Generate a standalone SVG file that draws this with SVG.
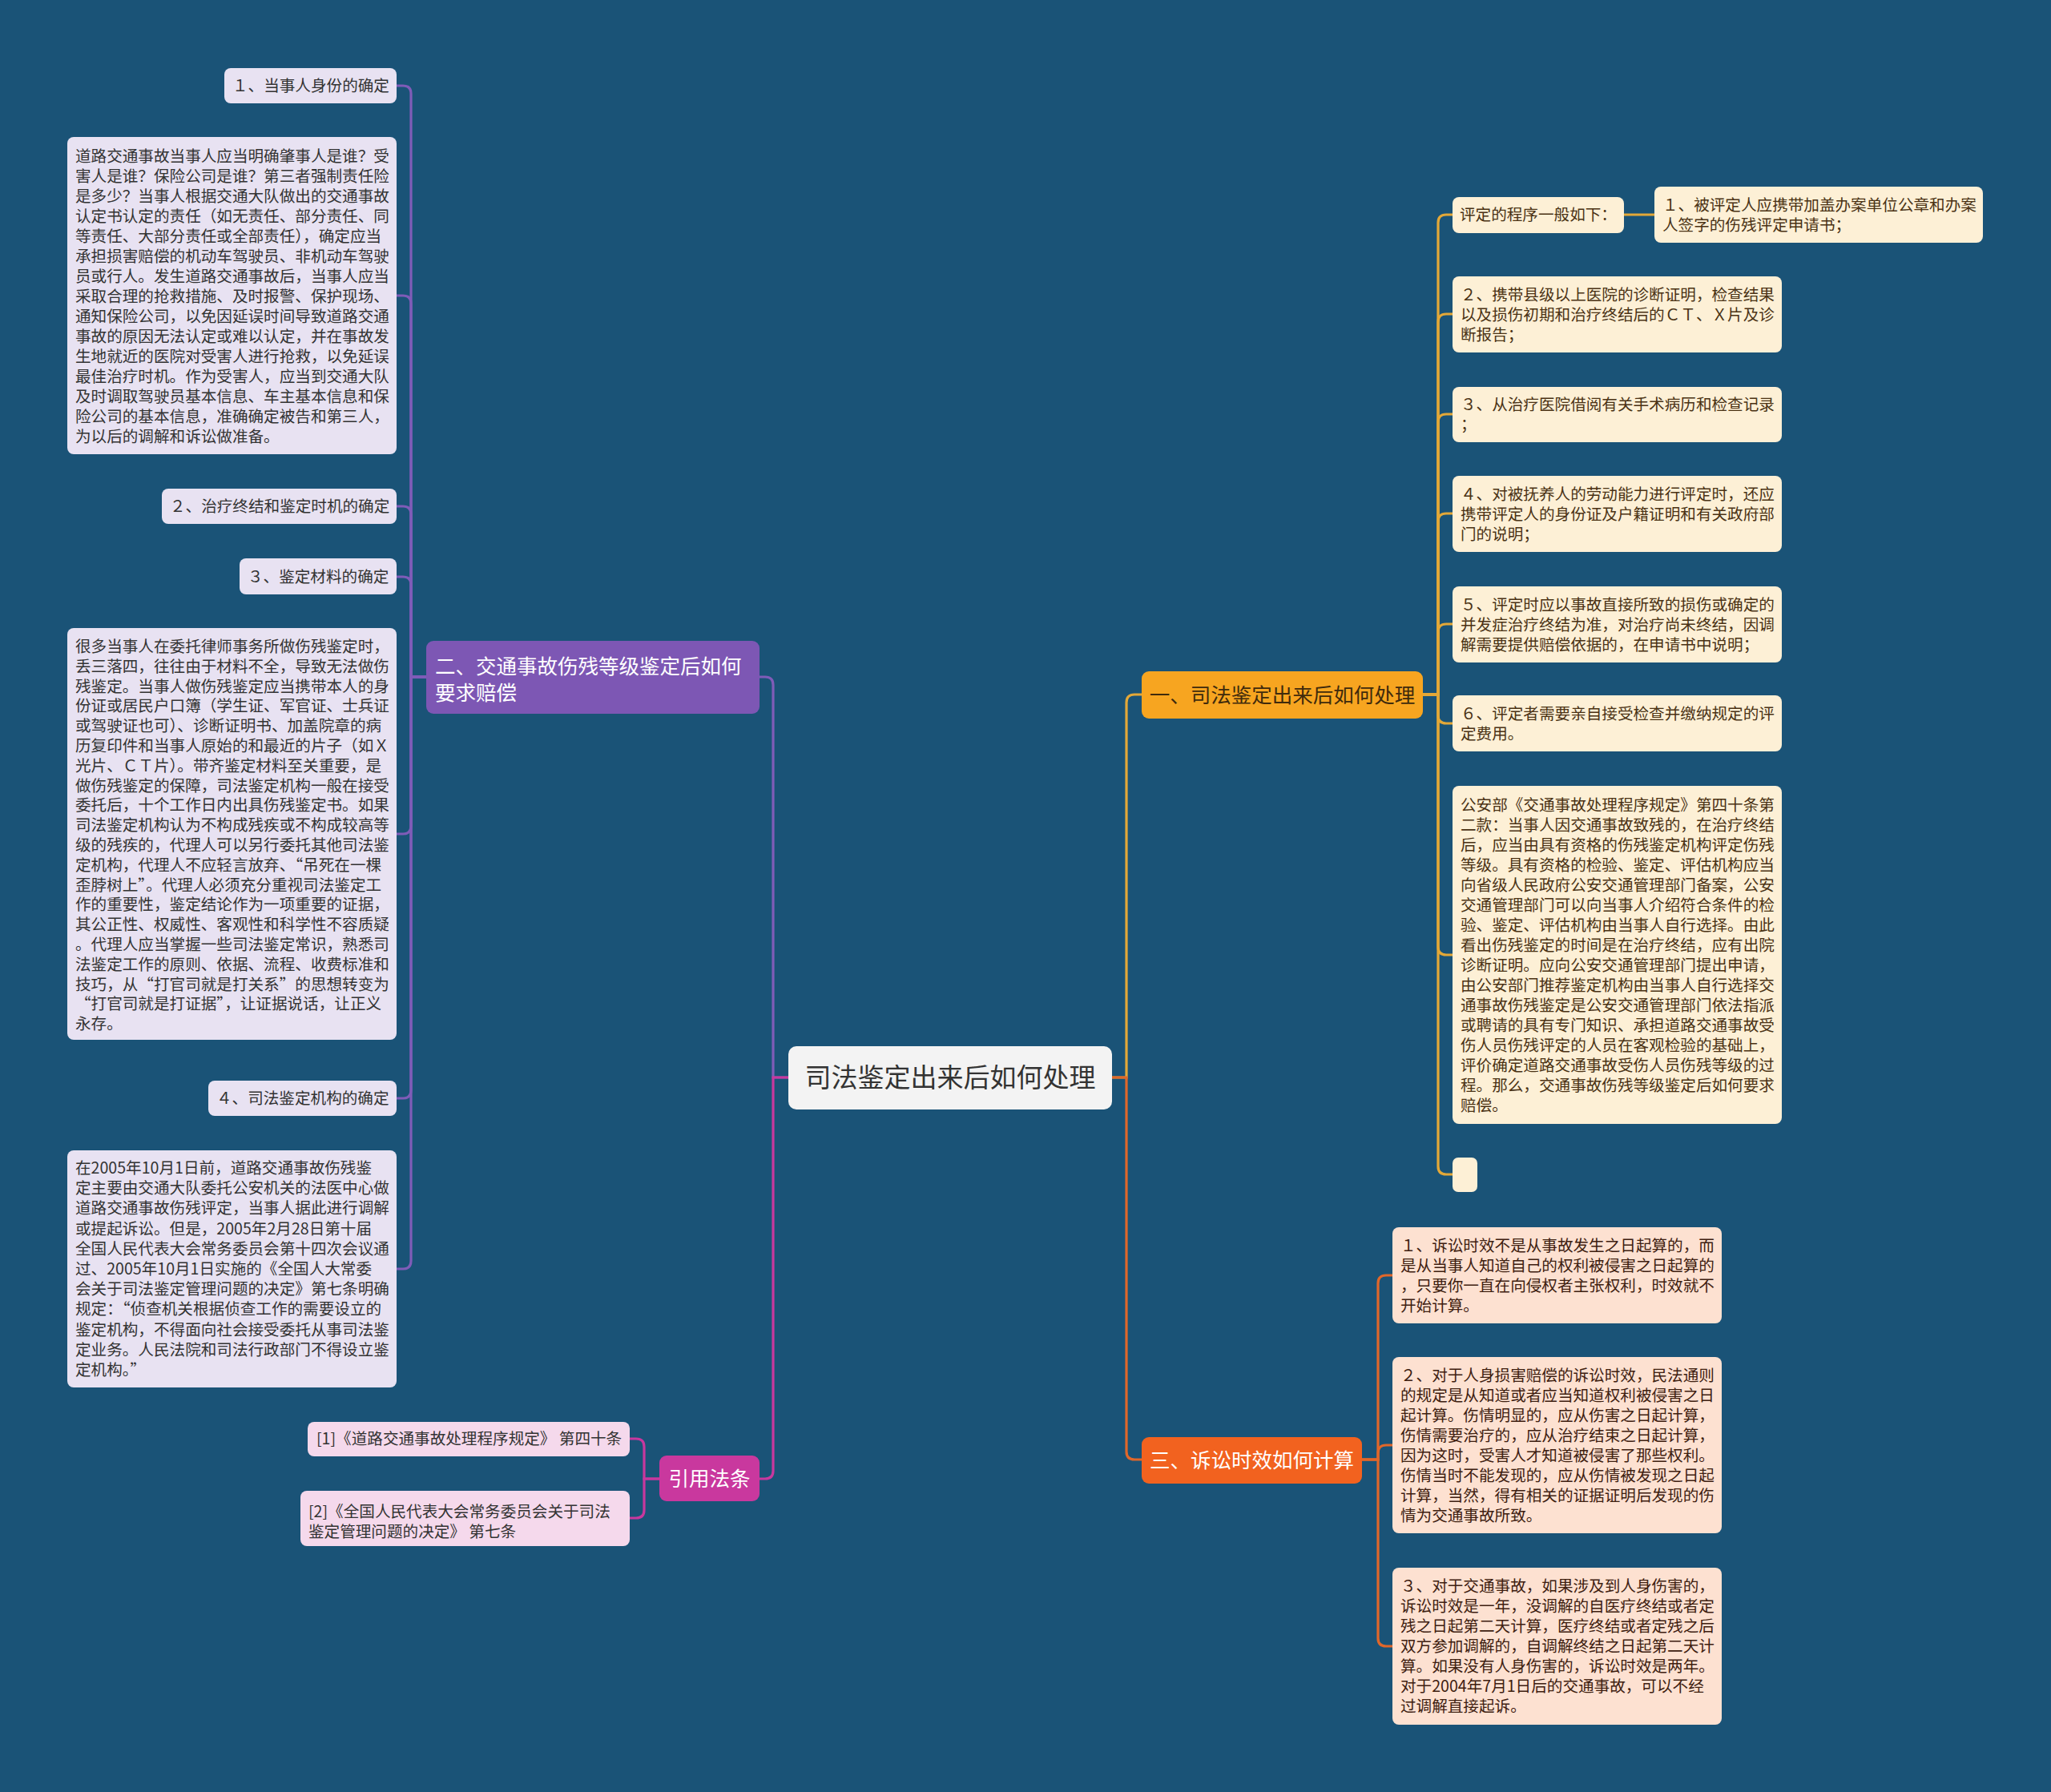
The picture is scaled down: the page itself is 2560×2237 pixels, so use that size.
<svg xmlns="http://www.w3.org/2000/svg" width="2560" height="2237" viewBox="0 0 2560 2237" lang="zh-CN">
<style>
text{font-family:"Noto Sans CJK SC","Noto Sans",sans-serif;}
.s{font-size:19.6px;}
.b{font-size:25.5px;}
.fw{font-feature-settings:"fwid";}
.dk{fill:#333333;}
.br{fill:#4a3214;}
.rd{fill:#3e2010;}
.wh{fill:#ffffff;}
.lav{fill:#e8e2f2;}
.pnk{fill:#f5d9ec;}
.crm{fill:#fdf0d6;}
.pch{fill:#fde1d1;}
.ln{fill:none;stroke-width:3.2;stroke-linecap:round;}
.lp{stroke:#7f5cb8;}
.lm{stroke:#c8389e;}
.lo{stroke:#e3a838;}
.lr{stroke:#e0672a;}
</style>
<rect x="0" y="0" width="2560" height="2237" fill="#1a5377"/>

<g id="connectors">
  <path class="ln lp" d="M984 1345 H965 V855 Q965 845 955 845 H948"/>
  <path class="ln lm" d="M984 1345 H965 V1836 Q965 1846 955 1846 H948"/>
  <path class="ln lo" d="M1388 1345 H1406 V877 Q1406 867 1416 867 H1425"/>
  <path class="ln lr" d="M1388 1345 H1406 V1812 Q1406 1822 1416 1822 H1425"/>
  <path class="ln lp" d="M532 845 H513 V117 Q513 107 503 107 H495"/>
  <path class="ln lp" d="M532 845 H513 V379 Q513 369 503 369 H495"/>
  <path class="ln lp" d="M532 845 H513 V642 Q513 632 503 632 H495"/>
  <path class="ln lp" d="M532 845 H513 V730 Q513 720 503 720 H495"/>
  <path class="ln lp" d="M532 845 H513 V1031 Q513 1041 503 1041 H495"/>
  <path class="ln lp" d="M532 845 H513 V1361 Q513 1371 503 1371 H495"/>
  <path class="ln lp" d="M532 845 H513 V1574 Q513 1584 503 1584 H495"/>
  <path class="ln lm" d="M823 1846 H804 V1806 Q804 1796 794 1796 H786"/>
  <path class="ln lm" d="M823 1846 H804 V1885 Q804 1895 794 1895 H786"/>
  <path class="ln lo" d="M1776 867 H1795 V278 Q1795 268 1805 268 H1813"/>
  <path class="ln lo" d="M2027 268 H2065"/>
  <path class="ln lo" d="M1776 867 H1795 V402 Q1795 392 1805 392 H1813"/>
  <path class="ln lo" d="M1776 867 H1795 V527 Q1795 517 1805 517 H1813"/>
  <path class="ln lo" d="M1776 867 H1795 V651 Q1795 641 1805 641 H1813"/>
  <path class="ln lo" d="M1776 867 H1795 V789 Q1795 779 1805 779 H1813"/>
  <path class="ln lo" d="M1776 867 H1795 V893 Q1795 903 1805 903 H1813"/>
  <path class="ln lo" d="M1776 867 H1795 V1182 Q1795 1192 1805 1192 H1813"/>
  <path class="ln lo" d="M1776 867 H1795 V1456 Q1795 1466 1805 1466 H1813"/>
  <path class="ln lr" d="M1700 1822 H1720 V1602 Q1720 1592 1730 1592 H1738"/>
  <path class="ln lr" d="M1700 1822 H1720 V1814 Q1720 1804 1730 1804 H1738"/>
  <path class="ln lr" d="M1700 1822 H1720 V2045 Q1720 2055 1730 2055 H1738"/>
</g>

<g id="center">
  <rect x="984" y="1306" width="404" height="79" rx="10" fill="#f3f3f3"/>
  <text x="1186" y="1357" font-size="33px" text-anchor="middle" class="dk">司法鉴定出来后如何处理</text>
</g>

<g id="branch-2">
  <rect x="532" y="800" width="416" height="91" rx="9" fill="#7d57b4"/>
  <text class="b wh" x="543" y="841">二、交通事故伤残等级鉴定后如何</text>
  <text class="b wh" x="543" y="874">要求赔偿</text>
</g>

<g id="n2-1">
  <rect class="lav" x="280" y="85" width="215" height="44" rx="8"/>
  <text class="s dk" x="290" y="114">１、当事人身份的确定</text>
</g>
<g id="n2-1a">
  <rect class="lav" x="84" y="171" width="411" height="396" rx="8"/>
  <text class="s dk" x="94" y="202">道路交通事故当事人应当明确肇事人是谁？受<tspan x="94" dy="25">害人是谁？保险公司是谁？第三者强制责任险</tspan><tspan x="94" dy="25">是多少？当事人根据交通大队做出的交通事故</tspan><tspan x="94" dy="25">认定书认定的责任（如无责任、部分责任、同</tspan><tspan x="94" dy="25">等责任、大部分责任或全部责任），确定应当</tspan><tspan x="94" dy="25">承担损害赔偿的机动车驾驶员、非机动车驾驶</tspan><tspan x="94" dy="25">员或行人。发生道路交通事故后，当事人应当</tspan><tspan x="94" dy="25">采取合理的抢救措施、及时报警、保护现场、</tspan><tspan x="94" dy="25">通知保险公司，以免因延误时间导致道路交通</tspan><tspan x="94" dy="25">事故的原因无法认定或难以认定，并在事故发</tspan><tspan x="94" dy="25">生地就近的医院对受害人进行抢救，以免延误</tspan><tspan x="94" dy="25">最佳治疗时机。作为受害人，应当到交通大队</tspan><tspan x="94" dy="25">及时调取驾驶员基本信息、车主基本信息和保</tspan><tspan x="94" dy="25">险公司的基本信息，准确确定被告和第三人，</tspan><tspan x="94" dy="25">为以后的调解和诉讼做准备。</tspan></text>
</g>
<g id="n2-2">
  <rect class="lav" x="202" y="610" width="293" height="44" rx="8"/>
  <text class="s dk" x="212" y="639">２、治疗终结和鉴定时机的确定</text>
</g>
<g id="n2-3">
  <rect class="lav" x="299" y="697" width="196" height="45" rx="8"/>
  <text class="s dk" x="309" y="727">３、鉴定材料的确定</text>
</g>
<g id="n2-3a">
  <rect class="lav" x="84" y="784" width="411" height="514" rx="8"/>
  <text class="s dk" x="94" y="814">很多当事人在委托律师事务所做伤残鉴定时，<tspan x="94" dy="24.8">丢三落四，往往由于材料不全，导致无法做伤</tspan><tspan x="94" dy="24.8">残鉴定。当事人做伤残鉴定应当携带本人的身</tspan><tspan x="94" dy="24.8">份证或居民户口簿（学生证、军官证、士兵证</tspan><tspan x="94" dy="24.8">或驾驶证也可）、诊断证明书、加盖院章的病</tspan><tspan x="94" dy="24.8">历复印件和当事人原始的和最近的片子（如Ｘ</tspan><tspan x="94" dy="24.8">光片、ＣＴ片）。带齐鉴定材料至关重要，是</tspan><tspan x="94" dy="24.8">做伤残鉴定的保障，司法鉴定机构一般在接受</tspan><tspan x="94" dy="24.8">委托后，十个工作日内出具伤残鉴定书。如果</tspan><tspan x="94" dy="24.8">司法鉴定机构认为不构成残疾或不构成较高等</tspan><tspan x="94" dy="24.8">级的残疾的，代理人可以另行委托其他司法鉴</tspan><tspan class="fw" x="94" dy="24.8">定机构，代理人不应轻言放弃、“吊死在一棵</tspan><tspan class="fw" x="94" dy="24.8">歪脖树上”。代理人必须充分重视司法鉴定工</tspan><tspan x="94" dy="24.8">作的重要性，鉴定结论作为一项重要的证据，</tspan><tspan x="94" dy="24.8">其公正性、权威性、客观性和科学性不容质疑</tspan><tspan x="94" dy="24.8">。代理人应当掌握一些司法鉴定常识，熟悉司</tspan><tspan x="94" dy="24.8">法鉴定工作的原则、依据、流程、收费标准和</tspan><tspan class="fw" x="94" dy="24.8">技巧，从“打官司就是打关系”的思想转变为</tspan><tspan class="fw" x="94" dy="24.8">“打官司就是打证据”，让证据说话，让正义</tspan><tspan x="94" dy="24.8">永存。</tspan></text>
</g>
<g id="n2-4">
  <rect class="lav" x="260" y="1349" width="235" height="44" rx="8"/>
  <text class="s dk" x="270" y="1378">４、司法鉴定机构的确定</text>
</g>
<g id="n2-4a">
  <rect class="lav" x="84" y="1436" width="411" height="296" rx="8"/>
  <text class="s dk" x="94" y="1465">在2005年10月1日前，道路交通事故伤残鉴<tspan x="94" dy="25.2">定主要由交通大队委托公安机关的法医中心做</tspan><tspan x="94" dy="25.2">道路交通事故伤残评定，当事人据此进行调解</tspan><tspan x="94" dy="25.2">或提起诉讼。但是，2005年2月28日第十届</tspan><tspan x="94" dy="25.2">全国人民代表大会常务委员会第十四次会议通</tspan><tspan x="94" dy="25.2">过、2005年10月1日实施的《全国人大常委</tspan><tspan x="94" dy="25.2">会关于司法鉴定管理问题的决定》第七条明确</tspan><tspan class="fw" x="94" dy="25.2">规定：“侦查机关根据侦查工作的需要设立的</tspan><tspan x="94" dy="25.2">鉴定机构，不得面向社会接受委托从事司法鉴</tspan><tspan x="94" dy="25.2">定业务。人民法院和司法行政部门不得设立鉴</tspan><tspan class="fw" x="94" dy="25.2">定机构。”</tspan></text>
</g>

<g id="branch-cite">
  <rect x="823" y="1817" width="125" height="57" rx="9" fill="#c9389e"/>
  <text class="b wh" x="885.5" y="1855" text-anchor="middle">引用法条</text>
</g>
<g id="cite-1">
  <rect class="pnk" x="384" y="1775" width="402" height="43" rx="8"/>
  <text class="s dk" x="395" y="1803">[1]《道路交通事故处理程序规定》 第四十条</text>
</g>
<g id="cite-2">
  <rect class="pnk" x="375" y="1861" width="411" height="69" rx="8"/>
  <text class="s dk" x="385" y="1894">[2]《全国人民代表大会常务委员会关于司法<tspan x="385" dy="25">鉴定管理问题的决定》 第七条</tspan></text>
</g>

<g id="branch-1">
  <rect x="1425" y="838" width="351" height="59" rx="9" fill="#f7a520"/>
  <text class="b" x="1600.5" y="877" text-anchor="middle" style="fill:#3f2a0c">一、司法鉴定出来后如何处理</text>
</g>
<g id="n1-0">
  <rect class="crm" x="1813" y="246" width="214" height="45" rx="8"/>
  <text class="s br" x="1822" y="275">评定的程序一般如下：</text>
</g>
<g id="n1-1">
  <rect class="crm" x="2065" y="233" width="410" height="70" rx="8"/>
  <text class="s br" x="2075" y="262.5">１、被评定人应携带加盖办案单位公章和办案<tspan x="2075" dy="25">人签字的伤残评定申请书；</tspan></text>
</g>
<g id="n1-2">
  <rect class="crm" x="1813" y="345" width="411" height="95" rx="8"/>
  <text class="s br" x="1823" y="375">２、携带县级以上医院的诊断证明，检查结果<tspan x="1823" dy="25">以及损伤初期和治疗终结后的ＣＴ、Ｘ片及诊</tspan><tspan x="1823" dy="25">断报告；</tspan></text>
</g>
<g id="n1-3">
  <rect class="crm" x="1813" y="483" width="411" height="69" rx="8"/>
  <text class="s br" x="1823" y="512">３、从治疗医院借阅有关手术病历和检查记录<tspan x="1823" dy="25">；</tspan></text>
</g>
<g id="n1-4">
  <rect class="crm" x="1813" y="594" width="411" height="95" rx="8"/>
  <text class="s br" x="1823" y="623.5">４、对被抚养人的劳动能力进行评定时，还应<tspan x="1823" dy="25">携带评定人的身份证及户籍证明和有关政府部</tspan><tspan x="1823" dy="25">门的说明；</tspan></text>
</g>
<g id="n1-5">
  <rect class="crm" x="1813" y="732" width="411" height="95" rx="8"/>
  <text class="s br" x="1823" y="761.5">５、评定时应以事故直接所致的损伤或确定的<tspan x="1823" dy="25">并发症治疗终结为准，对治疗尚未终结，因调</tspan><tspan x="1823" dy="25">解需要提供赔偿依据的，在申请书中说明；</tspan></text>
</g>
<g id="n1-6">
  <rect class="crm" x="1813" y="868" width="411" height="70" rx="8"/>
  <text class="s br" x="1823" y="897.5">６、评定者需要亲自接受检查并缴纳规定的评<tspan x="1823" dy="25">定费用。</tspan></text>
</g>
<g id="n1-7">
  <rect class="crm" x="1813" y="981" width="411" height="422" rx="8"/>
  <text class="s br" x="1823" y="1011.5">公安部《交通事故处理程序规定》第四十条第<tspan x="1823" dy="25">二款：当事人因交通事故致残的，在治疗终结</tspan><tspan x="1823" dy="25">后，应当由具有资格的伤残鉴定机构评定伤残</tspan><tspan x="1823" dy="25">等级。具有资格的检验、鉴定、评估机构应当</tspan><tspan x="1823" dy="25">向省级人民政府公安交通管理部门备案，公安</tspan><tspan x="1823" dy="25">交通管理部门可以向当事人介绍符合条件的检</tspan><tspan x="1823" dy="25">验、鉴定、评估机构由当事人自行选择。由此</tspan><tspan x="1823" dy="25">看出伤残鉴定的时间是在治疗终结，应有出院</tspan><tspan x="1823" dy="25">诊断证明。应向公安交通管理部门提出申请，</tspan><tspan x="1823" dy="25">由公安部门推荐鉴定机构由当事人自行选择交</tspan><tspan x="1823" dy="25">通事故伤残鉴定是公安交通管理部门依法指派</tspan><tspan x="1823" dy="25">或聘请的具有专门知识、承担道路交通事故受</tspan><tspan x="1823" dy="25">伤人员伤残评定的人员在客观检验的基础上，</tspan><tspan x="1823" dy="25">评价确定道路交通事故受伤人员伤残等级的过</tspan><tspan x="1823" dy="25">程。那么，交通事故伤残等级鉴定后如何要求</tspan><tspan x="1823" dy="25">赔偿。</tspan></text>
</g>
<g id="n1-8">
  <rect class="crm" x="1813" y="1445" width="31" height="43" rx="7"/>
</g>

<g id="branch-3">
  <rect x="1425" y="1794" width="275" height="58" rx="9" fill="#f2621f"/>
  <text class="b wh" x="1562.5" y="1832" text-anchor="middle">三、诉讼时效如何计算</text>
</g>
<g id="n3-1">
  <rect class="pch" x="1738" y="1532" width="411" height="120" rx="8"/>
  <text class="s rd" x="1748" y="1561.5">１、诉讼时效不是从事故发生之日起算的，而<tspan x="1748" dy="25">是从当事人知道自己的权利被侵害之日起算的</tspan><tspan x="1748" dy="25">，只要你一直在向侵权者主张权利，时效就不</tspan><tspan x="1748" dy="25">开始计算。</tspan></text>
</g>
<g id="n3-2">
  <rect class="pch" x="1738" y="1694" width="411" height="220" rx="8"/>
  <text class="s rd" x="1748" y="1723.5">２、对于人身损害赔偿的诉讼时效，民法通则<tspan x="1748" dy="25">的规定是从知道或者应当知道权利被侵害之日</tspan><tspan x="1748" dy="25">起计算。伤情明显的，应从伤害之日起计算，</tspan><tspan x="1748" dy="25">伤情需要治疗的，应从治疗结束之日起计算，</tspan><tspan x="1748" dy="25">因为这时，受害人才知道被侵害了那些权利。</tspan><tspan x="1748" dy="25">伤情当时不能发现的，应从伤情被发现之日起</tspan><tspan x="1748" dy="25">计算，当然，得有相关的证据证明后发现的伤</tspan><tspan x="1748" dy="25">情为交通事故所致。</tspan></text>
</g>
<g id="n3-3">
  <rect class="pch" x="1738" y="1957" width="411" height="196" rx="8"/>
  <text class="s rd" x="1748" y="1987">３、对于交通事故，如果涉及到人身伤害的，<tspan x="1748" dy="25">诉讼时效是一年，没调解的自医疗终结或者定</tspan><tspan x="1748" dy="25">残之日起第二天计算，医疗终结或者定残之后</tspan><tspan x="1748" dy="25">双方参加调解的，自调解终结之日起第二天计</tspan><tspan x="1748" dy="25">算。如果没有人身伤害的，诉讼时效是两年。</tspan><tspan x="1748" dy="25">对于2004年7月1日后的交通事故，可以不经</tspan><tspan x="1748" dy="25">过调解直接起诉。</tspan></text>
</g>
</svg>
